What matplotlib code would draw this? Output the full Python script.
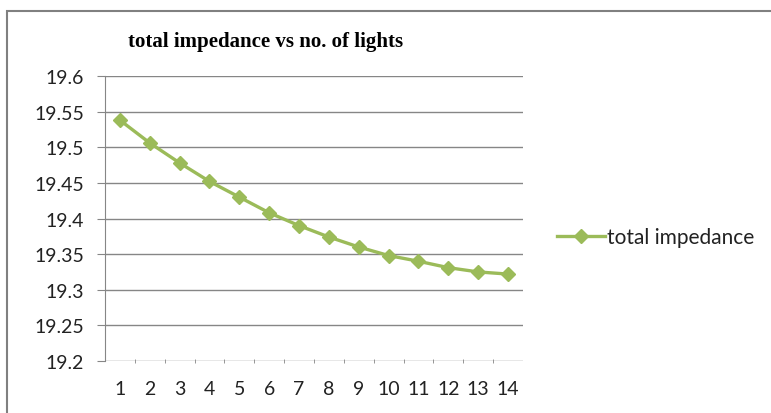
import numpy as np
import matplotlib
matplotlib.use("Agg")
import matplotlib.pyplot as plt
from matplotlib.patches import Rectangle

# data
lights = [1, 2, 3, 4, 5, 6, 7, 8, 9, 10, 11, 12, 13, 14]
impedance = [19.538, 19.506, 19.478, 19.452, 19.430, 19.408, 19.390,
             19.374, 19.360, 19.348, 19.340, 19.331, 19.325, 19.322]
y_ticks = [19.2, 19.25, 19.3, 19.35, 19.4, 19.45, 19.5, 19.55, 19.6]
y_labels = ["19.2", "19.25", "19.3", "19.35", "19.4", "19.45", "19.5", "19.55", "19.6"]

green = "#9BBB59"
grid_gray = "#868686"

plt.rcParams["font.family"] = ["Lato", "DejaVu Sans"]

fig = plt.figure(figsize=(7.71, 4.14), dpi=100)
W, H = 771, 414

# chart border (runs off the right and bottom edges like the original)
fig.patches.append(Rectangle((7 / W, -0.2), 2, 1.2 - 12 / H,
                             transform=fig.transFigure, fill=False,
                             edgecolor="#808080", linewidth=1.5))

ax = fig.add_axes([105 / W, 1 - 362 / H, (523 - 105) / W, (362 - 77) / H])

ax.plot(lights, impedance, color=green, linewidth=2.4, marker="D",
        markersize=7.5, label="total impedance", clip_on=False)

ax.set_xlim(0.5, 14.5)
ax.set_ylim(19.2, 19.6)
ax.set_yticks(y_ticks)
ax.set_yticklabels(y_labels)
ax.set_xticks(lights)
ax.set_xticklabels([str(v) for v in lights])
ax.set_xticks(np.arange(1.5, 14.5, 1), minor=True)

ax.grid(axis="y", color=grid_gray, linewidth=1)
ax.set_axisbelow(True)
for side in ["top", "right", "bottom"]:
    ax.spines[side].set_visible(False)
ax.spines["left"].set_color(grid_gray)
ax.tick_params(axis="y", length=6, color=grid_gray, labelsize=14, pad=9,
               labelcolor="#222222")
ax.tick_params(axis="x", which="major", length=0, labelsize=14, pad=14,
               labelcolor="#222222")
ax.tick_params(axis="x", which="minor", length=3, color=grid_gray,
               direction="inout")

fig.text(266 / W, 1 - 42 / H, "total impedance vs no. of lights",
         family="Liberation Serif", fontweight="bold", fontsize=15,
         ha="center", va="center")

leg = fig.legend(loc="center left", bbox_to_anchor=(557 / W, 1 - 238 / H),
                 frameon=False, fontsize=15, handlelength=2.3,
                 handletextpad=0.1, borderaxespad=0, borderpad=0)
for t in leg.get_texts():
    t.set_color("#222222")

fig.savefig("out.png", dpi=100)
